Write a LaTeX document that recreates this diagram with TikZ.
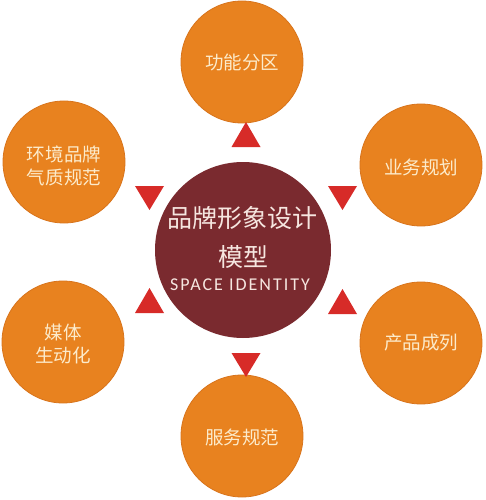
\documentclass[tikz,border=0pt]{standalone}
\usepackage{fontspec}
\newfontfamily\cjk{Noto Sans CJK SC}
\newfontfamily\latinf[LetterSpace=11]{Carlito}
\definecolor{orng}{HTML}{E8821F}
\definecolor{orngdark}{HTML}{D8741C}
\definecolor{wine}{HTML}{7A2A2F}
\definecolor{tri}{HTML}{D72B28}
\definecolor{cream}{HTML}{FCEBCB}
\definecolor{pale}{HTML}{F6E6E0}
\begin{document}
\begin{tikzpicture}[x=1pt,y=-1pt,
  petal/.style={circle, fill=orng, draw=orngdark, line width=0.8pt, minimum size=122pt, inner sep=0pt},
  petaltext/.style={font=\cjk\fontsize{18.5}{23}\selectfont, text=cream, align=center, inner sep=0pt},
  hub/.style={circle, fill=wine, minimum size=176pt, inner sep=0pt},
  hubtext/.style={font=\cjk\fontsize{25}{25}\selectfont, text=pale, inner sep=0pt},
  marker/.style={fill=tri}]
\useasboundingbox (0,0) rectangle (485,500);
% hub
\node[hub] (hub) at (243,250) {};
\node[hubtext] (h1) at (242,218) {品牌形象设计};
\node[hubtext] (h2) at (243,257) {模型};
\node[font=\latinf\fontsize{18}{18}\selectfont, text=pale, inner sep=0pt] (h3) at (240,285) {SPACE IDENTITY};
% petals
\node[petal] (top) at (242,62) {};
\node[petaltext] at (top.center) {功能分区};
\node[petal] (ur) at (421,165) {};
\node[petaltext] at (421,167) {业务规划};
\node[petal] (lr) at (421,343) {};
\node[petaltext] at (lr.center) {产品成列};
\node[petal] (bot) at (242,436) {};
\node[petaltext] at (242,437) {服务规范};
\node[petal] (ll) at (63,342) {};
\node[petaltext] at (63,344) {媒体\\生动化};
\node[petal] (ul) at (64,162) {};
\node[petaltext] at (64,166) {环境品牌\\气质规范};
% markers
\fill[marker] (231.5,147) -- (260.5,147) -- (246,122) -- cycle;
\fill[marker] (135,186) -- (164,186) -- (149.5,210) -- cycle;
\fill[marker] (328,186) -- (357,186) -- (342.5,210) -- cycle;
\fill[marker] (135,313) -- (164,313) -- (149.5,288) -- cycle;
\fill[marker] (328,314) -- (357,314) -- (342.5,289) -- cycle;
\fill[marker] (231.5,353) -- (260.5,353) -- (246,377) -- cycle;
\end{tikzpicture}
\end{document}
